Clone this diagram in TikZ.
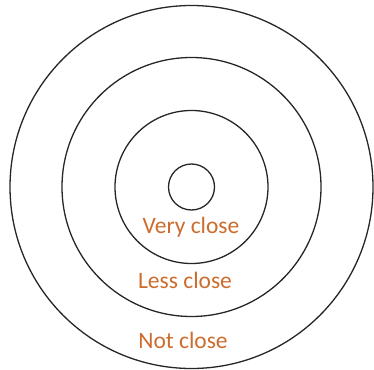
\documentclass[tikz,border=0pt]{standalone}
\usepackage{fontspec}
\setmainfont{Carlito}
\definecolor{lbl}{RGB}{204,108,45}
\begin{document}
\begin{tikzpicture}[x=1pt,y=-1pt,
  ring/.style={draw=black!85,line width=1.3pt},
  lab/.style={text=lbl,font=\fontsize{23.5}{26}\selectfont,inner sep=0pt}]
\useasboundingbox (0,0) rectangle (374,369);
\coordinate (c) at (191.5,187);
\draw[ring] (c) circle (181.5);
\draw[ring] (c) circle (129.5);
\draw[ring] (c) circle (76.5);
\draw[ring] (c) circle (23);
\node[lab,anchor=base] (vc) at (191,233) {Very close};
\node[lab,anchor=base] (lc) at (185,288) {Less close};
\node[lab,anchor=base] (nc) at (183,348) {Not close};
\end{tikzpicture}
\end{document}
